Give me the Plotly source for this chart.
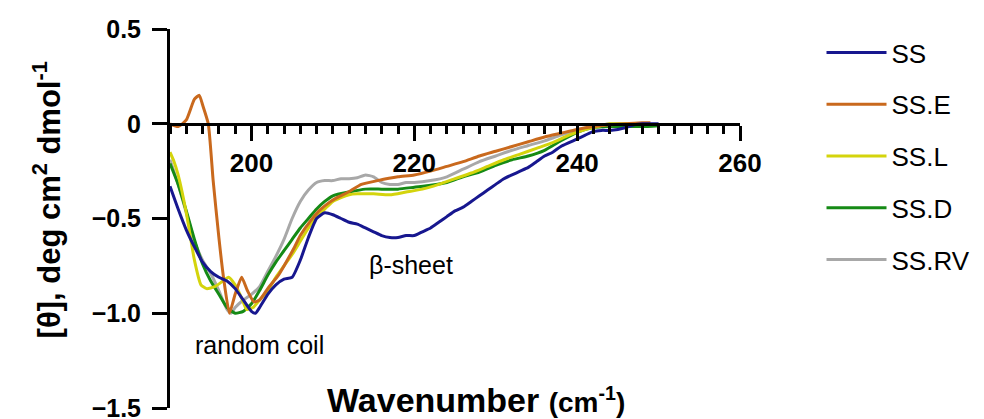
import plotly.graph_objects as go

# ---- data ----
ss_x = [190, 191, 192, 193, 194, 195, 196, 197, 198, 199, 200, 200.5, 201, 202, 203, 204, 205, 206, 207, 208, 209,
        210, 211, 212, 213, 214, 215, 216, 217, 218, 219, 220, 221, 222, 223, 224, 225, 226, 227, 228, 229, 230,
        231, 232, 233, 234, 235, 236, 237, 238, 239, 240, 241, 242, 243, 244, 245, 246, 247, 248, 249, 250]
ss_y = [-0.33, -0.45, -0.56, -0.65, -0.73, -0.78, -0.81, -0.83, -0.87, -0.93, -0.99, -1.0, -0.97, -0.90, -0.85,
        -0.82, -0.81, -0.72, -0.60, -0.50, -0.47, -0.48, -0.50, -0.52, -0.53, -0.55, -0.57, -0.59, -0.60, -0.60,
        -0.59, -0.59, -0.57, -0.55, -0.52, -0.49, -0.46, -0.44, -0.41, -0.38, -0.35, -0.32, -0.29, -0.27, -0.25,
        -0.23, -0.20, -0.17, -0.15, -0.12, -0.10, -0.08, -0.06, -0.04, -0.035, -0.035, -0.03, -0.02, -0.005, 0.0,
        0.0, 0.0]

sse_x = [190, 191, 192, 193, 193.6, 194, 194.7, 195.3, 196, 196.6, 197.3, 198, 198.8, 199.5, 200.3, 201, 202,
         203.3, 204, 205.3, 206, 207.3, 208.3, 209.4, 210.5, 211.9, 213.5, 215.5, 218, 220, 222, 224, 226, 228,
         230, 232, 234, 236, 238, 240, 242, 244, 246, 248, 249]
sse_y = [0.0, -0.015, 0.02, 0.13, 0.15, 0.10, 0.0, -0.30, -0.60, -0.82, -1.0, -0.90, -0.81, -0.88, -0.94, -0.93,
         -0.87, -0.80, -0.75, -0.65, -0.59, -0.51, -0.46, -0.42, -0.39, -0.36, -0.32, -0.30, -0.28, -0.27, -0.25,
         -0.225, -0.20, -0.17, -0.145, -0.12, -0.095, -0.07, -0.05, -0.03, -0.015, -0.005, 0.0, 0.005, 0.005]

ssl_x = [190, 190.5, 191, 192, 193, 193.8, 194.5, 195.5, 196.5, 197.2, 198, 198.8, 199.4, 200.2, 201, 202, 203,
         204, 205, 206, 207, 208, 209, 210, 211, 212, 213, 215, 217, 219, 221, 223, 225, 227, 229, 231, 233, 235,
         237, 239, 241, 243, 244, 246, 248]
ssl_y = [-0.15, -0.20, -0.27, -0.47, -0.72, -0.85, -0.87, -0.86, -0.83, -0.81, -0.85, -0.92, -0.98, -0.97, -0.93,
         -0.88, -0.81, -0.75, -0.69, -0.62, -0.55, -0.49, -0.45, -0.41, -0.39, -0.375, -0.37, -0.37, -0.375, -0.36,
         -0.345, -0.32, -0.29, -0.26, -0.225, -0.19, -0.16, -0.13, -0.10, -0.06, -0.03, -0.01, 0.0, 0.0, 0.0]

ssd_x = [190, 191, 192, 193, 194, 195, 196, 197, 198, 199, 200, 201, 202, 203, 204, 205, 206, 207, 208, 209, 210,
         212, 214, 216, 218, 220, 222, 224, 226, 228, 230, 232, 234, 236, 238, 240, 242, 244, 246, 248, 250]
ssd_y = [-0.21, -0.32, -0.46, -0.61, -0.74, -0.83, -0.90, -0.97, -1.0, -0.99, -0.95, -0.88, -0.80, -0.73, -0.67,
         -0.61, -0.55, -0.50, -0.45, -0.41, -0.38, -0.36, -0.345, -0.345, -0.345, -0.335, -0.325, -0.31, -0.28,
         -0.255, -0.22, -0.19, -0.17, -0.14, -0.09, -0.045, -0.02, -0.015, -0.015, -0.015, -0.01]

ssrv_x = [190, 191, 192, 193, 194, 195, 196, 197, 197.5, 198, 199, 200, 201, 202, 203, 204, 205, 206, 207, 208,
          209, 210, 211, 212, 213, 214, 215, 216, 217, 218, 219, 220, 222, 224, 226, 228, 230, 232, 234, 236, 238,
          240, 242, 244, 246, 248]
ssrv_y = [-0.19, -0.32, -0.47, -0.62, -0.72, -0.79, -0.88, -0.98, -1.0, -0.97, -0.93, -0.90, -0.86, -0.78, -0.70,
          -0.61, -0.50, -0.41, -0.35, -0.31, -0.30, -0.30, -0.29, -0.29, -0.285, -0.27, -0.28, -0.31, -0.32, -0.32,
          -0.31, -0.31, -0.30, -0.28, -0.24, -0.20, -0.17, -0.14, -0.115, -0.09, -0.06, -0.035, -0.015, 0.0, 0.0,
          0.0]

series_names = ["SS", "SS.E", "SS.L", "SS.D", "SS.RV"]
series_colors = ["#17178f", "#c9691d", "#d4d40c", "#158a15", "#a8a8a8"]
series_x = [ss_x, sse_x, ssl_x, ssd_x, ssrv_x]
series_y = [ss_y, sse_y, ssl_y, ssd_y, ssrv_y]

x_tick_vals = [200, 220, 240, 260]
y_tick_vals = [0.5, 0, -0.5, -1.0, -1.5]
y_tick_text = ["0.5", "0", "\u22120.5", "\u22121.0", "\u22121.5"]

FONT = "Arial, Liberation Sans, sans-serif"

fig = go.Figure()
# draw in reverse so SS sits on top; legend order via legendrank
for i in reversed(range(len(series_names))):
    fig.add_trace(go.Scatter(
        x=series_x[i], y=series_y[i], mode="lines", name=series_names[i],
        line=dict(color=series_colors[i], width=3, shape="spline", smoothing=0.5),
        legendgroup=series_names[i], legendrank=i + 1,
    ))

fig.update_layout(
    width=984, height=419,
    margin=dict(l=170, r=244, t=29, b=11, autoexpand=False),
    paper_bgcolor="white", plot_bgcolor="white",
    font=dict(family=FONT, color="black"),
    showlegend=True,
    legend=dict(
        x=1.143, y=1.0, xanchor="left", yanchor="top",
        font=dict(size=26, family=FONT, color="black"),
        traceorder="grouped", tracegroupgap=15, itemwidth=60,
        bgcolor="rgba(0,0,0,0)",
    ),
    xaxis=dict(
        range=[190, 260], anchor="free", position=0.75,
        showline=True, linecolor="black", linewidth=3,
        ticks="outside", ticklen=15, tickwidth=3, tickcolor="black",
        tickvals=x_tick_vals, automargin=False,
        tickfont=dict(size=26, family=FONT, color="black", weight="bold"),
        minor=dict(dtick=2, tick0=190, ticks="outside", ticklen=8, tickwidth=3, tickcolor="black"),
        showgrid=False, zeroline=False,
    ),
    yaxis=dict(
        range=[-1.5, 0.5],
        showline=True, linecolor="black", linewidth=3,
        ticks="outside", ticklen=15, tickwidth=3, tickcolor="black",
        tickvals=y_tick_vals, ticktext=y_tick_text,
        tickfont=dict(size=25, family=FONT, color="black", weight="bold"),
        ticklabelstandoff=6, ticklabeloverflow="allow", automargin=False,
        showgrid=False, zeroline=False,
    ),
    annotations=[
        dict(text="random coil", x=201, y=-1.17, xref="x", yref="y", showarrow=False,
             font=dict(size=25, family=FONT, color="black")),
        dict(text="\u03b2-sheet", x=219.6, y=-0.745, xref="x", yref="y", showarrow=False,
             font=dict(size=25, family=FONT, color="black")),
        dict(text="<b>Wavenumber</b> <b><span style='font-size:28px'>(cm<sup>-1</sup>)</span></b>",
             x=0.537, y=0.022, xref="paper", yref="paper", xanchor="center", yanchor="middle",
             showarrow=False, font=dict(size=34, family=FONT, color="black")),
        dict(text="<b>[\u03b8], deg cm<sup>2</sup> dmol<sup>-1</sup></b>",
             x=-0.216, y=0.55, xref="paper", yref="paper", xanchor="center", yanchor="middle",
             textangle=-90, showarrow=False, font=dict(size=31, family=FONT, color="black")),
    ],
)

fig.write_html("out.html")
